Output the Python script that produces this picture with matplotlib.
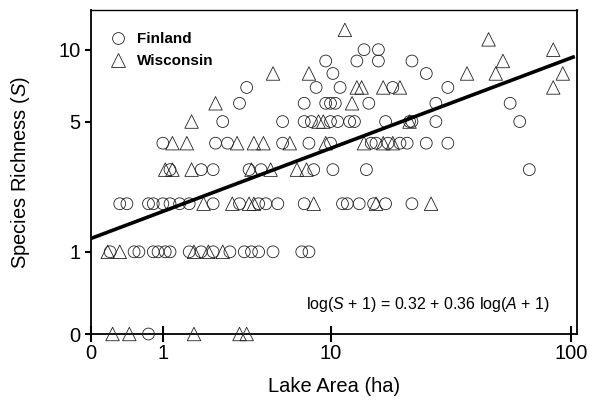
import numpy as np
import matplotlib
matplotlib.use("Agg")
import matplotlib.pyplot as plt
from matplotlib.lines import Line2D

plt.rcParams['font.family'] = ['Liberation Sans', 'DejaVu Sans']
plt.rcParams['mathtext.fontset'] = 'custom'
plt.rcParams['mathtext.rm'] = 'Liberation Sans'
plt.rcParams['mathtext.it'] = 'Liberation Sans:italic'

# ---- data: log10(A + 1) of lake area (ha) and species richness S ----
fin_log_area = [
    0.24,
    0.08, 0.18, 0.20, 0.26, 0.28, 0.31, 0.33, 0.41, 0.46, 0.51, 0.58, 0.64, 0.67, 0.70, 0.76, 0.88, 0.91,
    0.12, 0.15, 0.24, 0.26, 0.30, 0.33, 0.37, 0.41, 0.51, 0.62, 0.70, 0.73, 0.78, 0.89, 1.05, 1.07, 1.12, 1.18, 1.23, 1.34,
    0.33, 0.46, 0.51, 0.66, 0.71, 0.93, 1.01, 1.15, 1.83,
    0.30, 0.52, 0.57, 0.80, 0.91, 1.00, 1.17, 1.19, 1.24, 1.29, 1.32, 1.40, 1.49,
    0.55, 0.80, 0.89, 0.92, 1.00, 1.03, 1.08, 1.10, 1.23, 1.33, 1.34, 1.44, 1.79,
    0.62, 0.89, 0.98, 1.00, 1.02, 1.16, 1.44, 1.75,
    0.65, 0.94, 1.04, 1.26, 1.49,
    1.01, 1.40,
    0.98, 1.11, 1.20, 1.34,
    1.14, 1.20,
]
fin_species = (
    [0] * 1 + [1] * 17 + [2] * 20 + [3] * 9 + [4] * 13 + [5] * 13
    + [6] * 8 + [7] * 5 + [8] * 2 + [9] * 4 + [10] * 2
)

wis_log_area = [
    0.09, 0.16, 0.43, 0.62, 0.65,
    0.07, 0.12, 0.43, 0.49, 0.55,
    0.47, 0.59, 0.66, 0.68, 0.93, 1.19, 1.42,
    0.31, 0.34, 0.42, 0.67, 0.75, 0.86, 0.90,
    0.34, 0.40, 0.61, 0.68, 0.72, 0.83, 0.98, 1.14, 1.22, 1.26,
    0.42, 0.95, 0.97, 1.33,
    0.52, 1.09,
    1.11, 1.13, 1.22, 1.29, 1.93,
    0.76, 0.91, 1.57, 1.69, 1.97,
    1.72,
    1.93,
    1.66,
    1.06,
]
wis_species = (
    [0] * 5 + [1] * 5 + [2] * 7 + [3] * 7 + [4] * 10 + [5] * 4
    + [6] * 2 + [7] * 5 + [8] * 5 + [9] * 1 + [10] * 1 + [11] * 1 + [12] * 1
)

# fitted line as drawn
fit_intercept = 0.35
fit_slope = 0.33
fit_x_range = [0.0, 2.02]

x_tick_labels = ['0', '1', '10', '100']
x_tick_pos = [0.0, np.log10(2), 1.0, np.log10(101)]
y_tick_values = [0, 1, 5, 10]

# ---- figure ----
fig = plt.figure(figsize=(5.93, 4.09), dpi=100)
ax = fig.add_axes([91 / 593, 1 - 334 / 409, 486 / 593, 324 / 409])

fy = np.log10(np.array(fin_species) + 1)
wy = np.log10(np.array(wis_species) + 1)

ax.scatter(fin_log_area, fy, s=8.5 ** 2, marker='o', facecolors='none',
           edgecolors='#222222', linewidths=0.6, clip_on=False, zorder=3)
ax.scatter(wis_log_area, wy, s=9.7 ** 2, marker='^', facecolors='none',
           edgecolors='#222222', linewidths=0.6, clip_on=False, zorder=3)

lx = np.array(fit_x_range)
ax.plot(lx, fit_intercept + fit_slope * lx, color='black', lw=2.6,
        solid_capstyle='butt', zorder=4)

ax.set_xlim(0, 486 / 239.5)
ax.set_ylim(0, 324 / 273)

ax.set_xticks(x_tick_pos)
ax.set_xticklabels(x_tick_labels)
ax.set_yticks(np.log10(np.array(y_tick_values) + 1))
ax.set_yticklabels([str(v) for v in y_tick_values])

ax.tick_params(axis='x', direction='inout', length=11, width=1.5,
               labelsize=14.5, pad=2)
ax.tick_params(axis='y', direction='out', length=4.5, width=1.5,
               labelsize=14.5, pad=3)

for side in ['left', 'bottom', 'right']:
    ax.spines[side].set_linewidth(1.3)
ax.spines['top'].set_linewidth(1.0)

ax.set_xlabel('Lake Area (ha)', fontsize=14.5, labelpad=10)
ax.set_ylabel('Species Richness ($S$)', fontsize=14.5, labelpad=19)

handles = [
    Line2D([], [], marker='o', ls='none', mfc='none', mec='#222222',
           mew=0.6, ms=8.5),
    Line2D([], [], marker='^', ls='none', mfc='none', mec='#222222',
           mew=0.6, ms=9.7),
]
ax.legend(handles, ['Finland', 'Wisconsin'], loc='upper left',
          bbox_to_anchor=(0.012, 0.975), frameon=False, handlelength=1.0,
          handletextpad=0.75, labelspacing=0.55,
          prop={'weight': 'bold', 'size': 11})

ax.text(0.945, 0.09, 'log($S$ + 1) = 0.32 + 0.36 log($A$ + 1)',
        transform=ax.transAxes, ha='right', va='center', fontsize=11.5)

fig.savefig('out.png', dpi=100)
